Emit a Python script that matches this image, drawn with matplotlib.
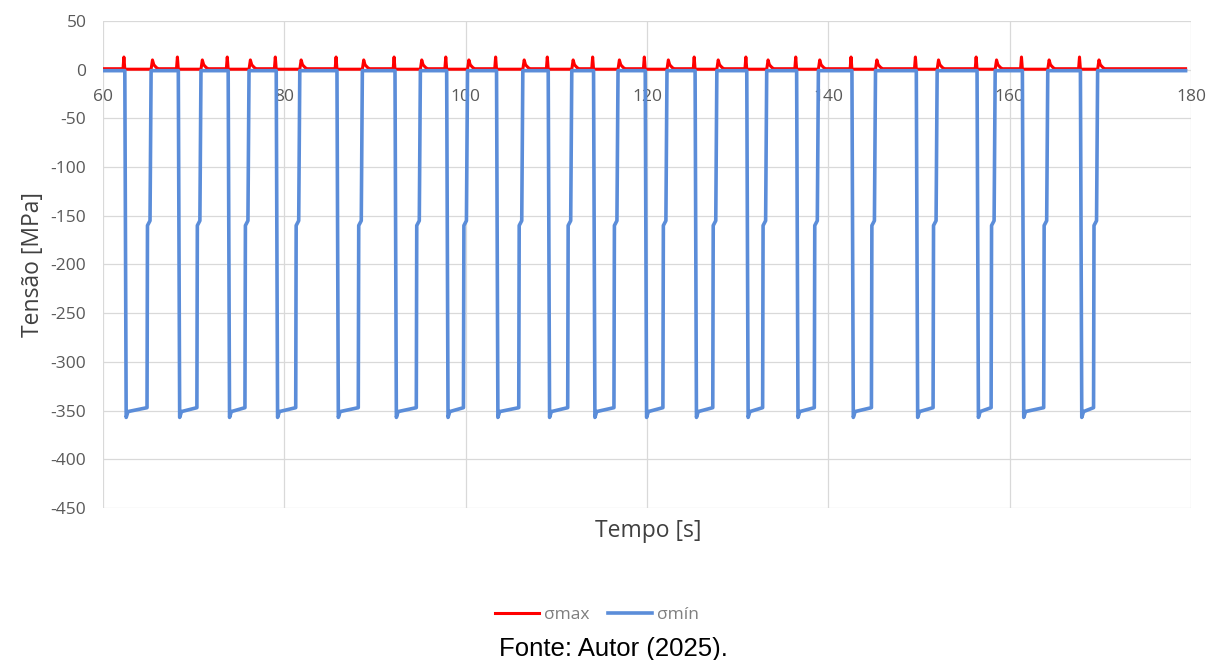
import numpy as np
import matplotlib
matplotlib.use('Agg')
from matplotlib import pyplot as plt

plt.rcParams['font.family'] = ['Open Sans', 'DejaVu Sans']
plt.rcParams['axes.unicode_minus'] = False

# pulse edges (s)
fall_t = [62.4, 68.3, 73.8, 79.1, 85.8, 92.2, 97.9, 103.4, 109.1, 114.1,
          119.8, 125.3, 131.0, 136.5, 142.6, 149.7, 156.4, 161.4, 167.8]
rise_t = [65.3, 70.8, 76.1, 81.7, 88.6, 95.0, 100.2, 106.3, 111.7, 116.8,
          122.2, 127.7, 133.2, 138.9, 145.2, 152.0, 158.4, 164.2, 169.7]
t_start, t_end = 60.0, 179.4

# levels (MPa)
smin_base = -1.0
smin_dip = -357.0
smin_low_start = -351.0
smin_low_end = -347.0
smin_step = [-160.0, -155.0]
smax_base = 1.0
smax_in_pulse = 0.5
smax_spike_fall = 13.0
smax_spike_rise = [10.0, 5.0, 2.0]

xticks = [60, 80, 100, 120, 140, 160, 180]
yticks = list(range(-450, 51, 50))

# build polylines from the edge lists
tb, vb = [t_start], [smin_base]
tr, vr = [t_start], [smax_base]
for f, r in zip(fall_t, rise_t):
    tb += [f, f + 0.15, f + 0.35, r - 0.45, r - 0.4, r - 0.12, r]
    vb += [smin_base, smin_dip, smin_low_start, smin_low_end,
           smin_step[0], smin_step[1], smin_base]
    tr += [f - 0.2, f - 0.1, f, r, r + 0.15, r + 0.3, r + 0.6, r + 0.8]
    vr += [smax_base, smax_spike_fall, smax_in_pulse, smax_in_pulse,
           smax_spike_rise[0], smax_spike_rise[1], smax_spike_rise[2], smax_base]
tb.append(t_end); vb.append(smin_base)
tr.append(t_end); vr.append(smax_base)

fig = plt.figure(figsize=(12.11, 6.6), dpi=100)
ax = fig.add_axes([0.0851, 0.2303, 0.8984, 0.7379])

ax.plot(tr, vr, color='#FF0000', lw=2.2, label='σmax', zorder=3)
ax.plot(tb, vb, color='#5B8DD9', lw=2.6, label='σmín', zorder=4)

ax.set_xlim(60, 180)
ax.set_ylim(-450, 50)
ax.set_xticks(xticks)
ax.set_yticks(yticks)
ax.grid(True, color='#d9d9d9', lw=0.9, zorder=0)
for s in ax.spines.values():
    s.set_visible(False)
ax.spines['bottom'].set_position(('data', 0))
ax.tick_params(axis='both', length=0, labelsize=12.5, labelcolor='#595959')
ax.tick_params(axis='x', pad=14)
ax.tick_params(axis='y', pad=12)

ax.set_ylabel('Tensão [MPa]', fontsize=16.5, color='#404040', labelpad=4)
fig.text(648 / 1211, 1 - 531 / 660, 'Tempo [s]', fontsize=16.5,
         color='#404040', ha='center', va='center')

fig.legend(loc='center', bbox_to_anchor=(597 / 1211, 1 - 615 / 660), ncol=2,
           frameon=False, fontsize=12.5, labelcolor='#7f7f7f',
           handlelength=2.5, columnspacing=1.1, handletextpad=0.3)

fig.text(613 / 1211, 1 - 649 / 660, 'Fonte: Autor (2025).', fontsize=18.5,
         family='Liberation Sans', ha='center', va='center', color='black')

fig.savefig('out.png', dpi=100)
